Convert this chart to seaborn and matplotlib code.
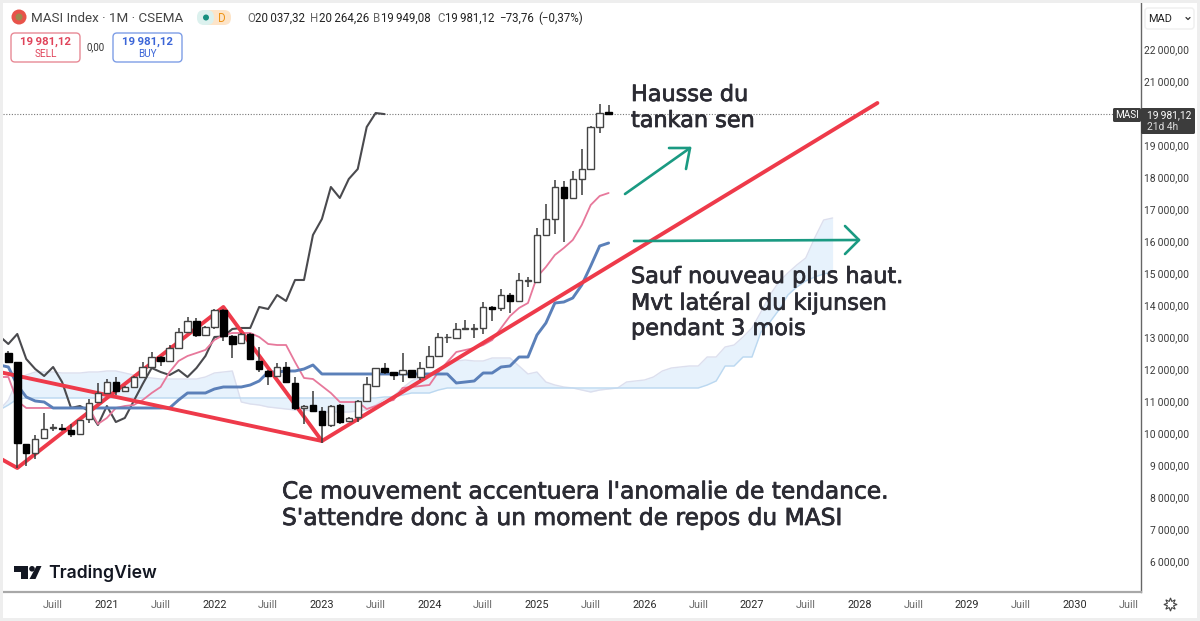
import numpy as np
import pandas as pd
import matplotlib
matplotlib.use("Agg")
import matplotlib.pyplot as plt
import matplotlib.patheffects as pe
from matplotlib.patches import Rectangle, FancyBboxPatch, Circle, Polygon
import seaborn as sns

sns.set_style("white")
UI_FONT = "Roboto"
NOTE_FONT = "DejaVu Sans"

# monthly OHLC, Feb 2020 to Sep 2025
opens = [12504, 12222, 9656, 9374, 9844, 10156, 10156, 10094, 9969, 10438, 10970,
         11252, 11596, 11315, 11440, 11753, 12066, 12379, 12254, 12660, 13161, 13506, 13067,
         13318, 13850, 13036, 12817, 13099, 12254, 11941, 11784, 12066, 11565, 10783, 10876,
         10689, 10250, 10876, 10376, 10500, 11002, 11471, 12035, 11909, 11847, 11972, 11753,
         12066, 12410, 12990, 12974, 13270, 13270, 13287, 13944, 13913, 14319, 14132, 14758,
         14726, 16197, 16698, 17700, 17356, 17950, 18263, 19578, 20037.32]
highs = [12567, 12222, 9656, 9937, 10626, 10282, 10282, 10282, 10407, 11065, 11565,
         11690, 11753, 11471, 11784, 12222, 12535, 12410, 12754, 13286, 13630, 13600, 13349,
         13881, 13881, 13067, 13130, 13130, 12692, 11972, 12191, 12222, 11753, 10876, 11315,
         10814, 10876, 10908, 10500, 11033, 11753, 12035, 12191, 11909, 12504, 11972, 12222,
         12723, 13130, 13099, 13443, 13537, 13412, 14100, 13975, 14507, 14382, 15008, 14883,
         16417, 17168, 17919, 17888, 18201, 18889, 19609, 20298, 20264.26]
lows = [12222, 8905, 8967, 9186, 9844, 10063, 10047, 9875, 9969, 10313, 10939,
        11221, 11189, 11283, 11440, 11721, 12066, 12097, 12254, 12629, 13161, 13005, 13036,
        13255, 12880, 12348, 12817, 12285, 11909, 11502, 11753, 11565, 10720, 10282, 10689,
        9687, 10188, 10282, 10344, 10344, 11002, 11471, 11847, 11659, 11596, 11722, 11659,
        12066, 12410, 12817, 12942, 13224, 12974, 13099, 13506, 13819, 13756, 14100, 14570,
        14726, 16166, 16229, 15978, 17356, 17449, 18263, 19390, 19949.08]
closes = [12222, 9687, 9374, 9812, 10125, 10188, 10140, 9969, 10407, 10939, 11252,
          11596, 11315, 11440, 11753, 12066, 12379, 12254, 12660, 13161, 13506, 13067, 13318,
          13850, 13036, 12786, 13099, 12316, 12003, 11784, 12066, 11596, 10783, 10845, 10689,
          10250, 10845, 10344, 10470, 11002, 11534, 12035, 11909, 11815, 11972, 11753, 12035,
          12410, 13005, 13020, 13255, 13287, 13287, 13944, 13881, 14319, 14132, 14789, 14789,
          16197, 16698, 17700, 17356, 17950, 18263, 19578, 20016, 19981.12]

# chikou span, Jan 2020 to Aug 2023
chikou = [13036, 12786, 13099, 12316, 12003, 11784, 12066, 11596, 10783, 10845, 10689,
          10250, 10845, 10344, 10470, 11002, 11534, 12035, 11909, 11815, 11972, 11753, 12035,
          12410, 13005, 13020, 13255, 13287, 13287, 13944, 13881, 14319, 14132, 14789, 14789,
          16197, 16698, 17700, 17356, 17950, 18263, 19578, 20016, 19981]

# tenkan and kijun, Jan 2020 to Sep 2025
tenkan = [11753, 11753, 11000, 10783, 10783, 10783, 10783, 10783, 10783, 10783, 10783, 10282,
          10470, 10783, 10845, 10876, 11033, 11252, 11440, 11909, 12254, 12410, 12504, 12600,
          12911, 13067, 13130, 13130, 13130, 13005, 12786, 12754, 12754, 12222, 11722, 11690,
          11471, 11252, 10970, 10970, 10970, 10751, 10845, 10970, 11033, 11409, 11440, 11471,
          11502, 11909, 12222, 12535, 12598, 12660, 12754, 12911, 13287, 13662, 13913, 14069,
          14883, 15196, 15571, 15791, 16041, 16510, 17136, 17418, 17512]
kijun = [12128, 12066, 11502, 11127, 11002, 10970, 10783, 10783, 10783, 10783, 10783, 10783,
         10783, 10783, 10783, 10783, 10783, 10783, 10783, 10783, 11033, 11252, 11252, 11252,
         11377, 11440, 11440, 11440, 11502, 11628, 11909, 11909, 11941, 11941, 12003, 12128,
         11847, 11847, 11847, 11847, 11847, 11847, 11847, 11847, 11847, 11847, 11847, 11847,
         11847, 11847, 11847, 11565, 11596, 11628, 11878, 11878, 12066, 12097, 12379, 12379,
         13067, 13443, 14069, 14100, 14226, 14632, 15227, 15853, 15947]

# cloud spans, Jan 2020 to Oct 2027
span_a = [10720, 11033, 11659, 11815, 11909, 11909, 11909, 11878, 11878, 11878, 11909, 11909,
          11941, 11941, 11878, 11815, 11753, 11722, 11690, 11690, 11690, 11690, 11690, 11753,
          11878, 11909, 11941, 10970, 10908, 10876, 10814, 10783, 10751, 10720, 10720, 10689,
          10657, 10657, 10657, 10657, 10689, 10720, 10876, 11064, 11158, 11409, 11628, 11753,
          11847, 12003, 12128, 12254, 12285, 12254, 12254, 12348, 12348, 12348, 12097, 11847,
          11909, 11596, 11502, 11440, 11409, 11346, 11283, 11346, 11377, 11409, 11596, 11628,
          11659, 11753, 11941, 12035, 12066, 12097, 12097, 12379, 12379, 12692, 12754, 13005,
          13287, 13787, 14319, 14726, 15008, 15258, 15478, 16104, 16667, 16730]
span_b = [10720, 10876, 11064, 11096, 11096, 11096, 11096, 11096, 11096, 11096, 11096, 11096,
          11096, 11096, 11096, 11096, 11096, 11096, 11096, 11096, 11096, 11096, 11096, 11096,
          11096, 11096, 11096, 11096, 11096, 11096, 11096, 11096, 11096, 11096, 11096, 11096,
          11096, 11096, 11096, 11096, 11096, 11096, 11096, 11127, 11127, 11189, 11252, 11252,
          11252, 11346, 11409, 11409, 11409, 11409, 11409, 11409, 11409, 11409, 11409, 11409,
          11409, 11409, 11409, 11409, 11409, 11409, 11409, 11409, 11409, 11409, 11409, 11409,
          11409, 11409, 11409, 11409, 11409, 11409, 11409, 11502, 11628, 12097, 12097, 12379,
          12379, 13161, 13474, 13850, 14319, 14570, 14758, 14883, 14977, 15039]

# the red hand drawn trend lines (month index, price)
zigzag_months = [0, 2, 25, 36, 98]
zigzag_prices = [9218, 8905, 13944, 9750, 20329]
falling_months = [0, 36]
falling_prices = [11909, 9750]

last_price = 19981.12
price_ticks = [6000, 7000, 8000, 9000, 10000, 11000, 12000, 13000, 14000, 15000, 16000, 17000,
               18000, 19000, 21000, 22000]
time_ticks = list(range(6, 127, 6))
time_labels = ["Juill", "2021", "Juill", "2022", "Juill", "2023", "Juill", "2024", "Juill", "2025",
               "Juill", "2026", "Juill", "2027", "Juill", "2028", "Juill", "2029", "Juill", "2030",
               "Juill"]

fig = plt.figure(figsize=(12, 6.21), dpi=100, facecolor="white")
ax = fig.add_axes([3 / 1200, 29 / 621, 1138 / 1200, 589 / 621])
ax.set_xlim(0.406, 127.42)
ax.set_ylim(5023, 23459)

# cloud
months = np.arange(len(span_a))
ax.fill_between(months, span_a, span_b, color="#e7f2fc", lw=0, zorder=1)
sns.lineplot(x=months, y=span_a, color="#dcdfee", lw=1, ax=ax, zorder=1.5)
sns.lineplot(x=months, y=span_b, color="#bbd8f0", lw=1, ax=ax, zorder=1.5)

# ichimoku lines
ax.axhline(last_price, color="#777777", lw=0.8, ls=(0, (1, 1.5)), zorder=1.6)
sns.lineplot(x=np.arange(len(chikou)), y=chikou, color="#4a4a4e", lw=1.5, ax=ax, zorder=2)
sns.lineplot(x=zigzag_months, y=zigzag_prices, color="#ee3a4a", lw=2.8, ax=ax, zorder=3.5)
sns.lineplot(x=falling_months, y=falling_prices, color="#ee3a4a", lw=2.8, ax=ax, zorder=3.5)
sns.lineplot(x=np.arange(len(tenkan)), y=tenkan, color="#e7789b", lw=1.3, ax=ax, zorder=3)
sns.lineplot(x=np.arange(len(kijun)), y=kijun, color="#5b80b9", lw=2.1, ax=ax, zorder=3)

# candles
candles = pd.DataFrame({"open": opens, "high": highs, "low": lows, "close": closes})
candles["month"] = np.arange(1, len(candles) + 1)
ax.vlines(candles["month"], candles["low"], candles["high"], color="#3a3a3a", lw=1.1, zorder=4)
up = candles["close"] >= candles["open"]
ax.bar(candles["month"][up], (candles["close"] - candles["open"])[up], bottom=candles["open"][up],
       width=0.72, facecolor="white", edgecolor="#444444", lw=1, zorder=4.2)
ax.bar(candles["month"][~up], (candles["close"] - candles["open"])[~up], bottom=candles["open"][~up],
       width=0.72, facecolor="black", edgecolor="black", lw=1, zorder=4.2)

# axes
ax.yaxis.tick_right()
ax.set_yticks(price_ticks)
ax.set_yticklabels([f"{p:,.2f}".replace(",", "\u2009").replace(".", ",") for p in price_ticks],
                   fontfamily=UI_FONT, fontsize=7.4, color="#3a3a3a", ha="right")
ax.tick_params(axis="y", length=0, pad=34.5)
ax.set_xticks(time_ticks)
ax.set_xticklabels(time_labels, fontfamily=UI_FONT, fontsize=7.8)
for lab in ax.get_xticklabels():
    lab.set_color("#6a6a6a" if lab.get_text() == "Juill" else "#2a2a2a")
ax.tick_params(axis="x", length=0, pad=5.5)
for side in ["top", "left"]:
    ax.spines[side].set_visible(False)
ax.spines["right"].set_color("#666666")
ax.spines["right"].set_linewidth(1)
ax.spines["bottom"].set_color("#a8a8a8")
ax.spines["bottom"].set_linewidth(1.6)

# overlay in pixels for the app furniture and the notes
ov = fig.add_axes([0, 0, 1, 1], facecolor="none")
ov.set_xlim(0, 1200)
ov.set_ylim(621, 0)
ov.axis("off")

for r in [(0, 0, 3, 621), (0, 0, 1200, 3), (0, 618, 1200, 3), (1197, 0, 3, 621)]:
    ov.add_patch(Rectangle((r[0], r[1]), r[2], r[3], facecolor="#eeeeee", lw=0))

# header
ov.add_patch(Circle((19, 17), 7.5, facecolor="#e8534a", lw=0))
ov.add_patch(Circle((19, 17), 3.5, facecolor="#9c8a4e", lw=0))
ov.text(31, 18, "MASI Index · 1M · CSEMA", fontfamily=UI_FONT, fontsize=9.6, color="#444444", va="center")
ov.add_patch(FancyBboxPatch((200, 10), 31, 15, boxstyle="round,pad=0,rounding_size=7",
                            facecolor="#fde4c8", lw=0))
ov.add_patch(FancyBboxPatch((197, 10), 17, 15, boxstyle="round,pad=0,rounding_size=7",
                            facecolor="#dcf1ee", lw=0))
ov.add_patch(Circle((206, 17.5), 3, facecolor="#159080", lw=0))
ov.text(222, 18, "D", fontfamily=UI_FONT, fontsize=8.4, color="#ee9418", ha="center", va="center")
for x, s, c in [(247, "O", "#666666"), (255, "20\u2009037,32", "#222222"), (310, "H", "#666666"),
                (319, "20\u2009264,26", "#222222"), (373, "B", "#666666"), (381, "19\u2009949,08", "#222222"),
                (437, "C", "#666666"), (445, "19\u2009981,12", "#222222"), (499, "−73,76", "#222222"),
                (538, "(−0,37%)", "#222222")]:
    ov.text(x, 18, s, fontfamily=UI_FONT, fontsize=8.3, color=c, va="center")

# sell and buy boxes
for x0, edge, col, word in [(11, "#e88a96", "#e0445a", "SELL"), (113, "#7e9ee6", "#3c66d8", "BUY")]:
    ov.add_patch(FancyBboxPatch((x0, 33), 69, 29, boxstyle="round,pad=0,rounding_size=4",
                                facecolor="white", edgecolor=edge, lw=1))
    ov.text(x0 + 34.5, 41.5, "19\u2009981,12", fontfamily=UI_FONT, fontsize=8.2, fontweight="bold",
            color=col, ha="center", va="center")
    ov.text(x0 + 34.5, 54, word, fontfamily=UI_FONT, fontsize=7.2, color=col, ha="center", va="center")
ov.text(96, 47.5, "0,00", fontfamily=UI_FONT, fontsize=7, color="#333333", ha="center", va="center")

# right scale pieces
ov.add_patch(FancyBboxPatch((1145, 8), 49, 21, boxstyle="round,pad=0,rounding_size=3",
                            facecolor="white", edgecolor="#efefef", lw=1))
ov.text(1148, 19, "MAD", fontfamily=UI_FONT, fontsize=7.9, color="#222222", va="center")
ov.plot([1186, 1188, 1190], [17.5, 19.5, 17.5], color="#333333", lw=0.9)
ov.add_patch(FancyBboxPatch((1113, 108), 28, 14, boxstyle="round,pad=0,rounding_size=1.5",
                            facecolor="#3c3c3c", lw=0))
ov.text(1127, 115.5, "MASI", fontfamily=UI_FONT, fontsize=7.2, color="white", ha="center", va="center")
ov.add_patch(FancyBboxPatch((1141, 108), 54, 26, boxstyle="round,pad=0,rounding_size=1.5",
                            facecolor="#3c3c3c", lw=0))
ov.text(1147, 115, "19\u2009981,12", fontfamily=UI_FONT, fontsize=7.4, color="white", va="center")
ov.text(1147, 127, "21d 4h", fontfamily=UI_FONT, fontsize=7.4, color="#dddddd", va="center")

# gear
ov.plot(1170, 604, marker=(8, 1, 0), ms=9.5, mfc="white", mec="#444444", mew=0.8)
ov.add_patch(Circle((1170, 604), 1.7, facecolor="white", edgecolor="#444444", lw=0.8))

# tradingview logo
ov.add_patch(Polygon([(14, 566), (28, 566), (28, 579), (21, 579), (21, 572), (14, 572)],
                     facecolor="#131722", lw=0))
ov.add_patch(Circle((32, 568.8), 2.8, facecolor="#131722", lw=0))
ov.add_patch(Polygon([(36.5, 566), (41.5, 566), (35.5, 579), (29.5, 579)], facecolor="#131722", lw=0))
ov.text(48, 573, "TradingView", fontfamily="Inter", fontsize=12.7, fontweight="semibold",
        color="#131722", va="center")

# notes, the lower two lines are a bit larger in the reference
note_color = "#2b2b33"
heavier = [pe.withStroke(linewidth=0.55, foreground=note_color)]
for x, y, s, size in [(631, 95, "Hausse du", 16.1), (631, 121, "tankan sen", 16.1),
                      (631, 277, "Sauf nouveau plus haut.", 16.1), (631, 303, "Mvt latéral du kijunsen", 16.1),
                      (631, 329, "pendant 3 mois", 16.1),
                      (282, 492, "Ce mouvement accentuera l'anomalie de tendance.", 16.8),
                      (282, 518, "S'attendre donc à un moment de repos du MASI", 16.8)]:
    ov.text(x, y, s, fontfamily=NOTE_FONT, fontsize=size, color=note_color, va="center", zorder=6,
            path_effects=heavier)

# green arrows
green = "#1a9a82"
ov.plot([625, 690], [194, 148], color=green, lw=1.9, zorder=5, solid_capstyle="round")
ov.plot([669, 690, 686], [148, 148, 169], color=green, lw=1.9, zorder=5)
ov.plot([634, 859], [241, 240], color=green, lw=1.9, zorder=5, solid_capstyle="round")
ov.plot([845, 859, 845], [226, 240, 254], color=green, lw=1.9, zorder=5)

fig.savefig("out.png", dpi=100, facecolor="white")
